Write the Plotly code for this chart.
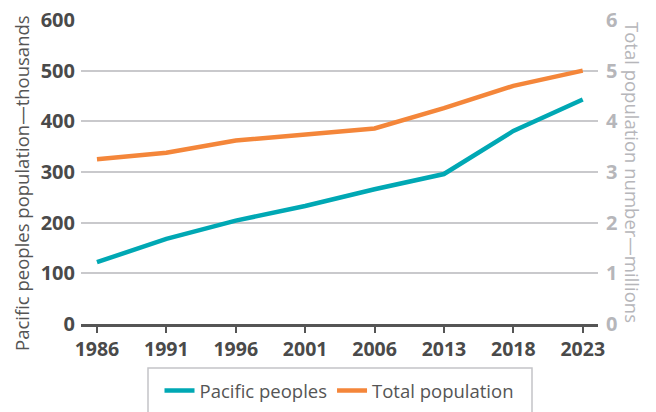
import plotly.graph_objects as go

# Census years and population series
years = ["1986", "1991", "1996", "2001", "2006", "2013", "2018", "2023"]
pacific_thousands = [122, 168, 204, 233, 266, 296, 381, 443]
total_millions = [3.25, 3.38, 3.62, 3.74, 3.86, 4.26, 4.70, 5.00]

left_ticks = [0, 100, 200, 300, 400, 500, 600]
right_ticks = [0, 1, 2, 3, 4, 5, 6]

TEAL = "#00a8b4"
ORANGE = "#f4863a"
DARK = "#4a4a4a"
LIGHT = "#b6b6ba"
GRID = "#c9c9cc"
FONT = "Open Sans"

W, H = 656, 412
L, R, T, B = 81, 58, 20, 88
plot_h = H - T - B
pw = W - L - R

fig = go.Figure()
fig.add_trace(go.Scatter(
    x=years, y=pacific_thousands, name="Pacific peoples", mode="lines",
    line=dict(color=TEAL, width=4.5), yaxis="y"))
fig.add_trace(go.Scatter(
    x=years, y=total_millions, name="Total population", mode="lines",
    line=dict(color=ORANGE, width=4.5), yaxis="y2"))

fig.update_layout(
    width=W, height=H,
    margin=dict(l=L, r=R, t=T, b=B, autoexpand=False),
    paper_bgcolor="white", plot_bgcolor="white",
    hovermode=False,
    font=dict(family=FONT, color=DARK),
    xaxis=dict(
        type="category", range=[-0.23, 7.22], automargin=False,
        showgrid=False, showline=True, linecolor="#555555", linewidth=2.5,
        ticks="outside", ticklen=6, tickwidth=1.5, tickcolor="#555555",
        tickfont=dict(family=FONT, size=19.5, color=DARK, weight="bold"),
    ),
    yaxis=dict(
        range=[0, 600], tickvals=left_ticks, showgrid=True, gridcolor=GRID,
        gridwidth=1.5, zeroline=False, showline=False, ticks="",
        ticklabelstandoff=5, automargin=False,
        tickfont=dict(family=FONT, size=20, color=DARK, weight="bold"),
    ),
    yaxis2=dict(
        range=[0, 6], tickvals=right_ticks, overlaying="y", side="right",
        showgrid=False, zeroline=False, showline=False, ticks="",
        ticklabelstandoff=7, automargin=False,
        tickfont=dict(family=FONT, size=20, color=LIGHT, weight="bold"),
    ),
    legend=dict(
        orientation="h", x=0.5, xanchor="center",
        y=-(391 - (H - B)) / plot_h, yanchor="middle",
        font=dict(family=FONT, size=18.5, color="#555555"),
        bgcolor="rgba(0,0,0,0)", itemwidth=30,
    ),
    showlegend=True,
)

# Axis titles
fig.add_annotation(
    text="Pacific peoples population—thousands", xref="paper", yref="paper",
    x=-(L - 22) / pw, y=(H - B - 183) / plot_h, textangle=-90,
    showarrow=False, font=dict(family=FONT, size=18.5, color="#555555"),
    xanchor="center", yanchor="middle")
fig.add_annotation(
    text="Total population number—millions", xref="paper", yref="paper",
    x=1 + (633 - (W - R)) / pw, y=(H - B - 172) / plot_h, textangle=90,
    showarrow=False, font=dict(family=FONT, size=18.5, color=LIGHT),
    xanchor="center", yanchor="middle")

# Legend frame
fig.add_shape(
    type="rect", xref="paper", yref="paper",
    x0=(148 - L) / pw, x1=(532 - L) / pw,
    y0=-(368 - (H - B)) / plot_h, y1=-(430 - (H - B)) / plot_h,
    line=dict(color="#c4c4c8", width=1.5), fillcolor="rgba(0,0,0,0)")

fig.write_html("out.html")
